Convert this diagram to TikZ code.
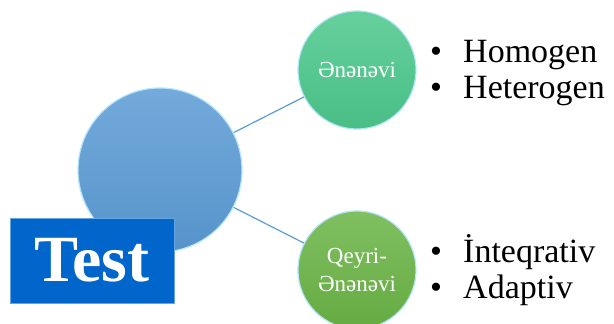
\documentclass[tikz,border=0pt]{standalone}
\usepackage{fontspec}
\setmainfont{Liberation Serif}
\usepackage{xcolor}
\usetikzlibrary{positioning,calc,backgrounds}
\definecolor{coreblue}{HTML}{5B9BD5}
\definecolor{testblue}{HTML}{0066CC}
\definecolor{mint}{HTML}{4CC88C}
\definecolor{leaf}{HTML}{6AB445}

\begin{document}
\begin{tikzpicture}[x=1pt, y=-1pt,
  ball/.style={circle, inner sep=0pt, minimum size=#1, draw=white!70!cyan, line width=1.2pt},
  item/.style={anchor=base west, inner sep=0pt, font=\fontsize{34}{36}\selectfont}]
\useasboundingbox (0,0) rectangle (614,324);

% Circles
\node [ball=164pt, top color=coreblue!85!white, bottom color=coreblue!95!black] (core) at (160, 170) {};
\node [ball=118pt, top color=mint!85!white, bottom color=mint!95!black, text=white,
  font=\fontsize{23}{28}\selectfont] (trad) at (357, 70) {Ənənəvi};
\node [ball=118pt, top color=leaf!85!white, bottom color=leaf!95!black, text=white,
  font=\fontsize{23}{28}\selectfont, align=center] (nontrad) at (357, 270) {Qeyri-\\Ənənəvi};

% Connections
\begin{scope}[on background layer]
\foreach \j in {trad,nontrad}
  \draw [coreblue, line width=1.2pt] (core.center) -- (\j.center);
\end{scope}

% Title box
\node [rectangle, fill=testblue, draw=testblue!60!white, line width=1pt, minimum width=164pt,
  minimum height=85pt, text=white, font=\fontsize{66}{66}\selectfont\bfseries] (title) at (92, 260.5) {Test};

% Bullet lists
\foreach \t/\y [count=\i] in {Homogen/62, Heterogen/98, İnteqrativ/262, Adaptiv/298} {
  \node [item] (item-\i) at (463, \y) {\t};
  \node [item, anchor=base] (dot-\i) at (436, \y) {•};
}
\end{tikzpicture}
\end{document}
